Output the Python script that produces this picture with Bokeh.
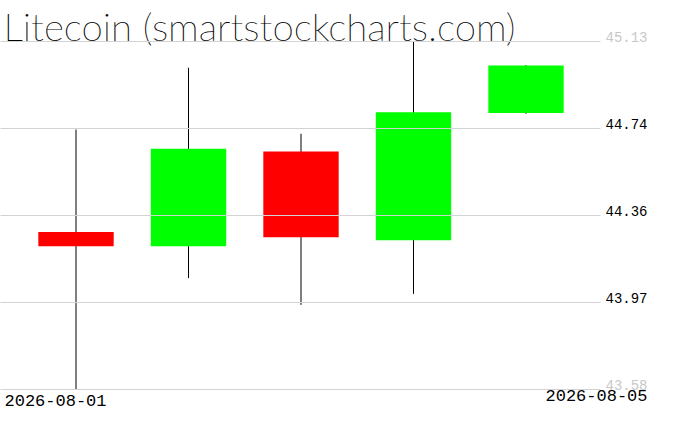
from bokeh.plotting import figure
from bokeh.models import Range1d, Label, Grid, FixedTicker
from bokeh.embed import file_html
from bokeh.resources import INLINE
import numpy as np

# ---- data ----
title_text = "Litecoin (smartstockcharts.com)"
dates = ["2026-08-01", "2026-08-02", "2026-08-03", "2026-08-04", "2026-08-05"]
open_ = [44.281, 44.218, 44.640, 44.245, 44.811]
high = [44.738, 45.013, 44.719, 45.130, 45.025]
low = [43.580, 44.076, 43.957, 44.006, 44.808]
close = [44.218, 44.652, 44.258, 44.815, 45.023]
tick_labels = ["43.58", "43.97", "44.36", "44.74", "45.13"]

# ---- layout (pixels) ----
W, H = 676, 431
CENTER0, STEP = 75.5, 112.5      # x pixel of first candle, spacing
PTOP, PBOT = 41, 389             # pixel rows of the highest / lowest price
GRID_END = 600                   # grid lines stop here

idx = list(range(len(dates)))
YMIN, YMAX = min(low), max(high)
tick_vals = list(np.linspace(YMIN, YMAX, len(tick_labels)))

X0 = -CENTER0 / STEP
X1 = X0 + W / STEP
UPP = (YMAX - YMIN) / (PBOT - PTOP)   # price units per pixel
Y1 = YMAX + PTOP * UPP
Y0 = Y1 - H * UPP


def xd(px):
    return X0 + px / STEP


def yd(py):
    return Y1 - py * UPP


p = figure(width=W, height=H, output_backend="svg", toolbar_location=None,
           x_range=Range1d(X0, X1), y_range=Range1d(Y0, Y1),
           x_axis_location=None, y_axis_location=None, title=None,
           min_border=0)
p.outline_line_color = None
p.background_fill_color = "white"
p.border_fill_color = "white"
for g in p.grid:
    g.visible = False

up = [c >= o for o, c in zip(open_, close)]
tops = [max(o, c) for o, c in zip(open_, close)]
bots = [min(o, c) for o, c in zip(open_, close)]
cols = ["#00ff00" if u else "#ff0000" for u in up]

p.segment(x0=idx, y0=low, x1=idx, y1=high, line_color="black", line_width=1)
p.vbar(x=idx, width=0.67, top=tops, bottom=bots, fill_color=cols, line_color=None)

if "cross_bounds" in Grid.properties():
    grid = Grid(dimension=1, ticker=FixedTicker(ticks=tick_vals),
                cross_bounds=(X0, xd(GRID_END)),
                grid_line_color="#d3d3d3", grid_line_width=1, level="overlay")
    p.add_layout(grid, "center")
else:
    gl = p.segment(x0=[X0] * len(tick_vals), y0=tick_vals,
                   x1=[xd(GRID_END)] * len(tick_vals), y1=tick_vals,
                   line_color="#d3d3d3", line_width=1)
    gl.level = "overlay"

# title
p.add_layout(Label(x=xd(3), y=yd(25), text=title_text, text_font="Lato Thin",
                   text_font_size="38.5px", text_color="black",
                   text_align="left", text_baseline="alphabetic"))

# right price labels
label_colors = ["#c8c8c8", "black", "black", "black", "#c8c8c8"]
for v, t, c in zip(tick_vals, tick_labels, label_colors):
    gy = PTOP + (YMAX - v) / UPP
    p.add_layout(Label(x=xd(605), y=yd(gy - 5), text=t, text_font="Liberation Mono",
                       text_font_size="14px", text_color=c,
                       text_align="left", text_baseline="alphabetic"))

# date labels
p.add_layout(Label(x=xd(4), y=yd(400), text=dates[0], text_font="Liberation Mono",
                   text_font_size="17px", text_color="black",
                   background_fill_color="white",
                   text_align="left", text_baseline="alphabetic"))
p.add_layout(Label(x=xd(647), y=yd(395), text=dates[-1], text_font="Liberation Mono",
                   text_font_size="17px", text_color="black",
                   background_fill_color="white",
                   text_align="right", text_baseline="alphabetic"))

open("out.html", "w").write(file_html(p, INLINE))
